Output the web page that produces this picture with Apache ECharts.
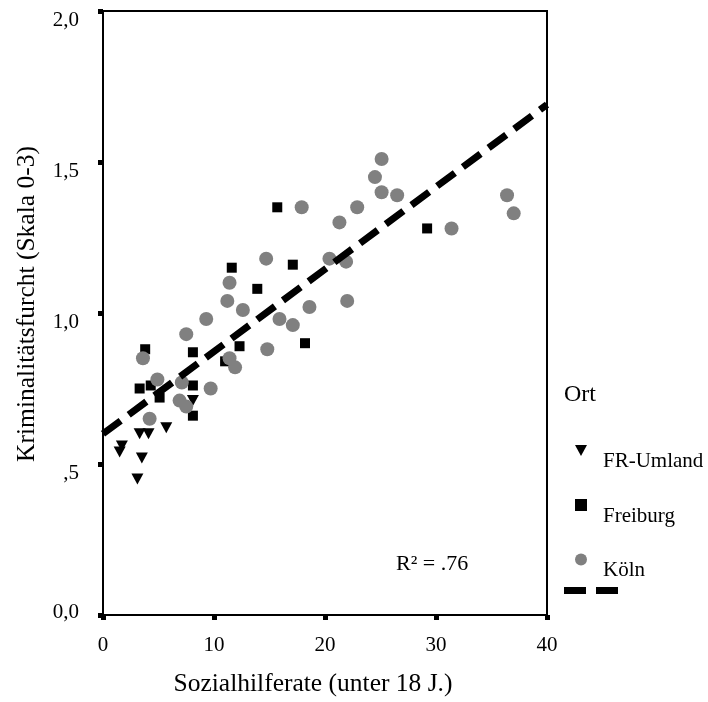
<!DOCTYPE html>
<html>
<head>
<meta charset="utf-8">
<script src="https://cdn.jsdelivr.net/npm/echarts@6/dist/echarts.min.js"></script>
<style>
html, body { margin: 0; padding: 0; background: #fff; }
#chart { width: 708px; height: 702px; }
</style>
</head>
<body>
<div id="chart"></div>
<script>
// FR-Umland [Sozialhilferate, Kriminalitätsfurcht]
var umlandData = [
    [1.5, 0.54], [1.7, 0.56], [3.1, 0.45], [3.3, 0.60], [3.5, 0.52],
    [4.1, 0.60], [5.7, 0.62], [8.1, 0.71]
];
// Freiburg
var freiburgData = [
    [3.3, 0.75], [3.8, 0.88], [4.3, 0.76], [5.1, 0.72], [8.1, 0.87],
    [8.1, 0.76], [8.1, 0.66], [11.0, 0.84], [12.3, 0.89], [11.6, 1.15],
    [13.9, 1.08], [15.7, 1.35], [17.1, 1.16], [18.2, 0.90], [29.2, 1.28]
];
// Köln
var koelnData = [
    [3.6, 0.85], [4.2, 0.65], [4.9, 0.78], [6.9, 0.71], [7.1, 0.77],
    [7.5, 0.69], [7.5, 0.93], [9.3, 0.98], [9.7, 0.75], [11.2, 1.04],
    [11.4, 1.10], [12.6, 1.01], [11.4, 0.85], [11.9, 0.82], [14.7, 1.18],
    [14.8, 0.88], [15.9, 0.98], [17.1, 0.96], [17.9, 1.35], [18.6, 1.02],
    [20.4, 1.18], [21.3, 1.30], [21.9, 1.17], [22.0, 1.04], [22.9, 1.35],
    [24.5, 1.45], [25.1, 1.51], [25.1, 1.40], [26.5, 1.39], [31.4, 1.28],
    [36.4, 1.39], [37.0, 1.33]
];
// Regressionsgerade
var fitData = [[0, 0.60], [40, 1.69]];

var xTickLabels = ['0', '10', '20', '30', '40'];
var yTickLabels = ['0,0', ',5', '1,0', '1,5', '2,0'];

var font = 'Liberation Serif';
var triangleDown = 'path://M0,0 L12,0 L6,11 Z';

var myChart = echarts.init(document.getElementById('chart'));
var option = {
    animation: false,
    textStyle: { fontFamily: font, color: '#000' },
    title: {
        text: 'Ort',
        left: 564,
        top: 383,
        padding: 0,
        textStyle: { fontFamily: font, fontSize: 24, fontWeight: 'normal', color: '#000' }
    },
    graphic: [{
        type: 'text',
        left: 396,
        top: 553,
        style: { text: 'R² = .76', font: '22px "Liberation Serif"', fill: '#000' }
    }],
    grid: {
        left: 103,
        right: 161,
        top: 11,
        bottom: 85,
        show: true,
        borderColor: '#000',
        borderWidth: 2
    },
    legend: [{
        orient: 'vertical',
        left: 575,
        top: 445,
        padding: 0,
        itemWidth: 12,
        itemHeight: 12,
        itemGap: 27,
        data: ['FR-Umland', 'Freiburg', 'Köln'],
        formatter: function (name) { return '{t|' + name + '}'; },
        textStyle: {
            fontFamily: font,
            fontSize: 21,
            color: '#000',
            rich: {
                t: { fontFamily: font, fontSize: 21, color: '#000', padding: [22, 0, 0, 11] }
            }
        }
    }, {
        left: 564,
        top: 587,
        padding: 0,
        itemWidth: 54,
        itemHeight: 7,
        data: [{ name: 'Linear', icon: 'path://M0,0 H22 V7 H0 Z M32,0 H54 V7 H32 Z' }],
        formatter: function () { return ''; }
    }],
    xAxis: {
        type: 'value',
        min: 0,
        max: 40,
        interval: 10,
        name: 'Sozialhilferate (unter 18 J.)',
        nameLocation: 'middle',
        nameGap: 56,
        nameTextStyle: { fontFamily: font, fontSize: 25.5, color: '#000', padding: [0, 24, 0, 0] },
        axisLine: { lineStyle: { color: '#000', width: 2 } },
        axisTick: { length: 5, lineStyle: { color: '#000', width: 5 } },
        axisLabel: {
            margin: 20,
            fontFamily: font,
            fontSize: 21,
            color: '#000',
            formatter: function (value, index) { return xTickLabels[index]; }
        },
        splitLine: { show: false }
    },
    yAxis: {
        type: 'value',
        min: 0,
        max: 2,
        interval: 0.5,
        name: 'Kriminalitätsfurcht (Skala 0-3)',
        nameLocation: 'middle',
        nameGap: 63,
        nameTextStyle: { fontFamily: font, fontSize: 25.5, color: '#000', padding: [0, 0, 0, 18] },
        axisLine: { lineStyle: { color: '#000', width: 2 } },
        axisTick: { length: 5, lineStyle: { color: '#000', width: 5 } },
        axisLabel: {
            margin: 24,
            fontFamily: font,
            fontSize: 21,
            color: '#000',
            formatter: function (value, index) {
                return index === 0 ? '{z|' + yTickLabels[index] + '}' : '{n|' + yTickLabels[index] + '}';
            },
            rich: {
                z: { fontFamily: font, fontSize: 21, color: '#000', padding: [0, 0, 6, 0] },
                n: { fontFamily: font, fontSize: 21, color: '#000', padding: [18, 0, 0, 0] }
            }
        },
        splitLine: { show: false }
    },
    series: [{
        name: 'FR-Umland',
        type: 'scatter',
        symbol: triangleDown,
        symbolSize: [12, 11],
        itemStyle: { color: '#000', opacity: 1 },
        data: umlandData
    }, {
        name: 'Freiburg',
        type: 'scatter',
        symbol: 'rect',
        symbolSize: 10,
        itemStyle: { color: '#000', opacity: 1 },
        data: freiburgData
    }, {
        name: 'Köln',
        type: 'scatter',
        symbol: 'circle',
        symbolSize: 14,
        itemStyle: { color: '#808080', opacity: 1 },
        data: koelnData
    }, {
        name: 'Linear',
        type: 'line',
        symbol: 'none',
        data: fitData,
        z: 5,
        lineStyle: { color: '#000', width: 7, type: [22, 10] },
        itemStyle: { color: '#000' }
    }]
};
myChart.setOption(option);
</script>
</body>
</html>
